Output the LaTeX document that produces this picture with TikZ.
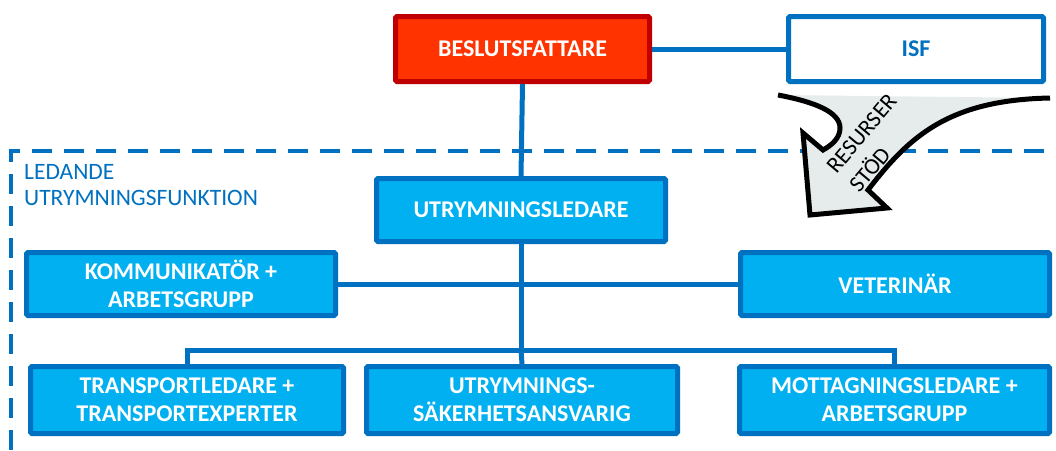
\documentclass[tikz,border=0pt]{standalone}
\usepackage{fontspec}
\setmainfont{Carlito}
\usepackage{xcolor}
\definecolor{boxfill}{HTML}{00B0F0}
\definecolor{boxline}{HTML}{0070C0}
\definecolor{redfill}{HTML}{FF3300}
\definecolor{redline}{HTML}{C00000}
\definecolor{arrowfill}{HTML}{E6ECEC}
\tikzset{
  orgbox/.style={draw=boxline, fill=boxfill, line width=5pt, text=white, align=center,
    font=\bfseries\fontsize{24}{28}\selectfont, inner sep=0pt, rounded corners=1.5pt},
  link/.style={draw=boxline, line width=5pt}
}

\begin{document}
\begin{tikzpicture}[x=1pt,y=-1pt]
        \useasboundingbox (0,0) rectangle (1056,450);
        \draw[boxline, line width=4.5pt, dash pattern=on 20pt off 12pt] (11,450) -- (11,151) -- (1056,151);
        \node[anchor=west, text=boxline, align=left, font=\fontsize{23.5}{26}\selectfont, inner sep=0pt] (ledande) at (24,185) {LEDANDE\\UTRYMNINGSFUNKTION};
        \node[orgbox, fill=redfill, draw=redline, minimum width=254pt, minimum height=65pt](besl) at (522.5,49) {BESLUTSFATTARE};
        \node[orgbox, fill=white, text=boxline, minimum width=255pt, minimum height=65pt](isf) at (916,49) {ISF};
        \node[orgbox, minimum width=289pt, minimum height=63pt](utr) at (521,210) {UTRYMNINGSLEDARE};
        \node[orgbox, minimum width=309pt, minimum height=63pt](komm) at (181,284) {KOMMUNIKATÖR +\\ARBETSGRUPP};
        \node[orgbox, minimum width=309pt, minimum height=63pt](vet) at (895,284) {VETERINÄR};
        \node[orgbox, minimum width=313pt, minimum height=67pt](trans) at (187,400) {TRANSPORTLEDARE +\\TRANSPORTEXPERTER};
        \node[orgbox, minimum width=311pt, minimum height=67pt](saek) at (522,400) {UTRYMNINGS-\\SÄKERHETSANSVARIG};
        \node[orgbox, minimum width=310pt, minimum height=67pt](mott) at (894.5,400) {MOTTAGNINGSLEDARE +\\ARBETSGRUPP};
        \coordinate(bus) at (521,350);
        \draw[link](besl.east)--(isf.west);
        \draw[link](besl.south)--(utr.north);
        \draw[link](komm.east)--(vet.west);
        \draw[link](utr.south)--(bus);
        \draw[link](bus)--(saek.north);
        \draw[link](trans.north)|-(bus)-|(mott.north);
        % curved arrow
        \fill[arrowfill] (778,95) .. controls (815,102) and (840,112) .. (840,128) .. controls (840,138) and (832,145) .. (823,150)
          -- (803,133) -- (810,215) -- (887,208) -- (868,190) .. controls (910,135) and (950,100) .. (1050,98) -- cycle;
        \draw[line width=5pt, line join=miter] (778,95) .. controls (815,102) and (840,112) .. (840,128) .. controls (840,138) and (832,145) .. (823,150)
          -- (803,133) -- (810,215) -- (887,208) -- (868,190) .. controls (910,135) and (950,100) .. (1050,98);
        \node[rotate=50, align=left, font=\fontsize{23}{29.5}\selectfont, inner sep=0pt](resurs) at (873,143) {RESURSER\\STÖD};
\end{tikzpicture}
\end{document}
